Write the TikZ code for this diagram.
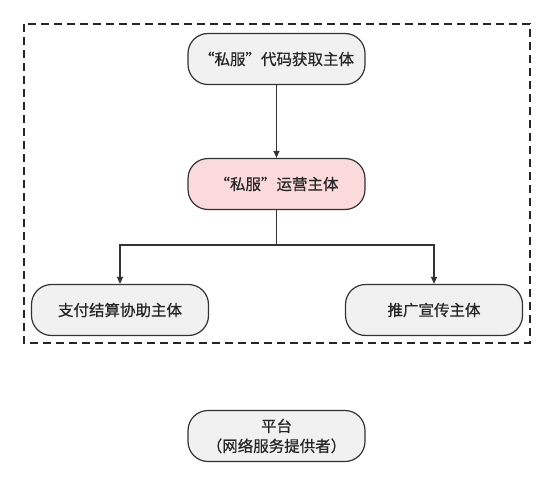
\documentclass[tikz,border=0pt]{standalone}
\usepackage{fontspec}
\setmainfont{Noto Sans CJK SC}[FakeBold=0.6]
\usetikzlibrary{arrows.meta}
\definecolor{boxfill}{HTML}{F1F1F1}
\definecolor{pinkfill}{HTML}{FADADA}
\definecolor{edge}{HTML}{333333}
\tikzset{
  ent/.style={draw=edge, line width=1.2pt, fill=boxfill, rounded corners=20pt,
    minimum width=177pt, minimum height=51pt, align=center, font=\fontsize{15.5pt}{20pt}\selectfont, text=black!85},
  conn/.style={draw=edge, line width=1.2pt, -{Triangle[length=7pt,width=6pt]}},
}
\begin{document}
\begin{tikzpicture}[x=1pt,y=-1pt]
\useasboundingbox (0,0) rectangle (554,484);
\draw[line width=1.5pt, black!85, dash pattern=on 8pt off 5pt] (24,24) rectangle (530,343);
\node[ent] (src) at (276.5,59) {“私服”代码获取主体};
\node[ent, fill=pinkfill] (op) at (276.5,184) {“私服”运营主体};
\node[ent] (pay) at (120,310) {支付结算协助主体};
\node[ent] (pro) at (434,310) {推广宣传主体};
\node[ent] (plat) at (276.5,436) {平台\\（网络服务提供者）};
\coordinate (j) at (276.5,245);
\draw[conn] (src) -- (op);
\draw[conn] (op.south) -- (j) -| (pay.north);
\draw[conn] (j) -| (pro.north);
\end{tikzpicture}
\end{document}
